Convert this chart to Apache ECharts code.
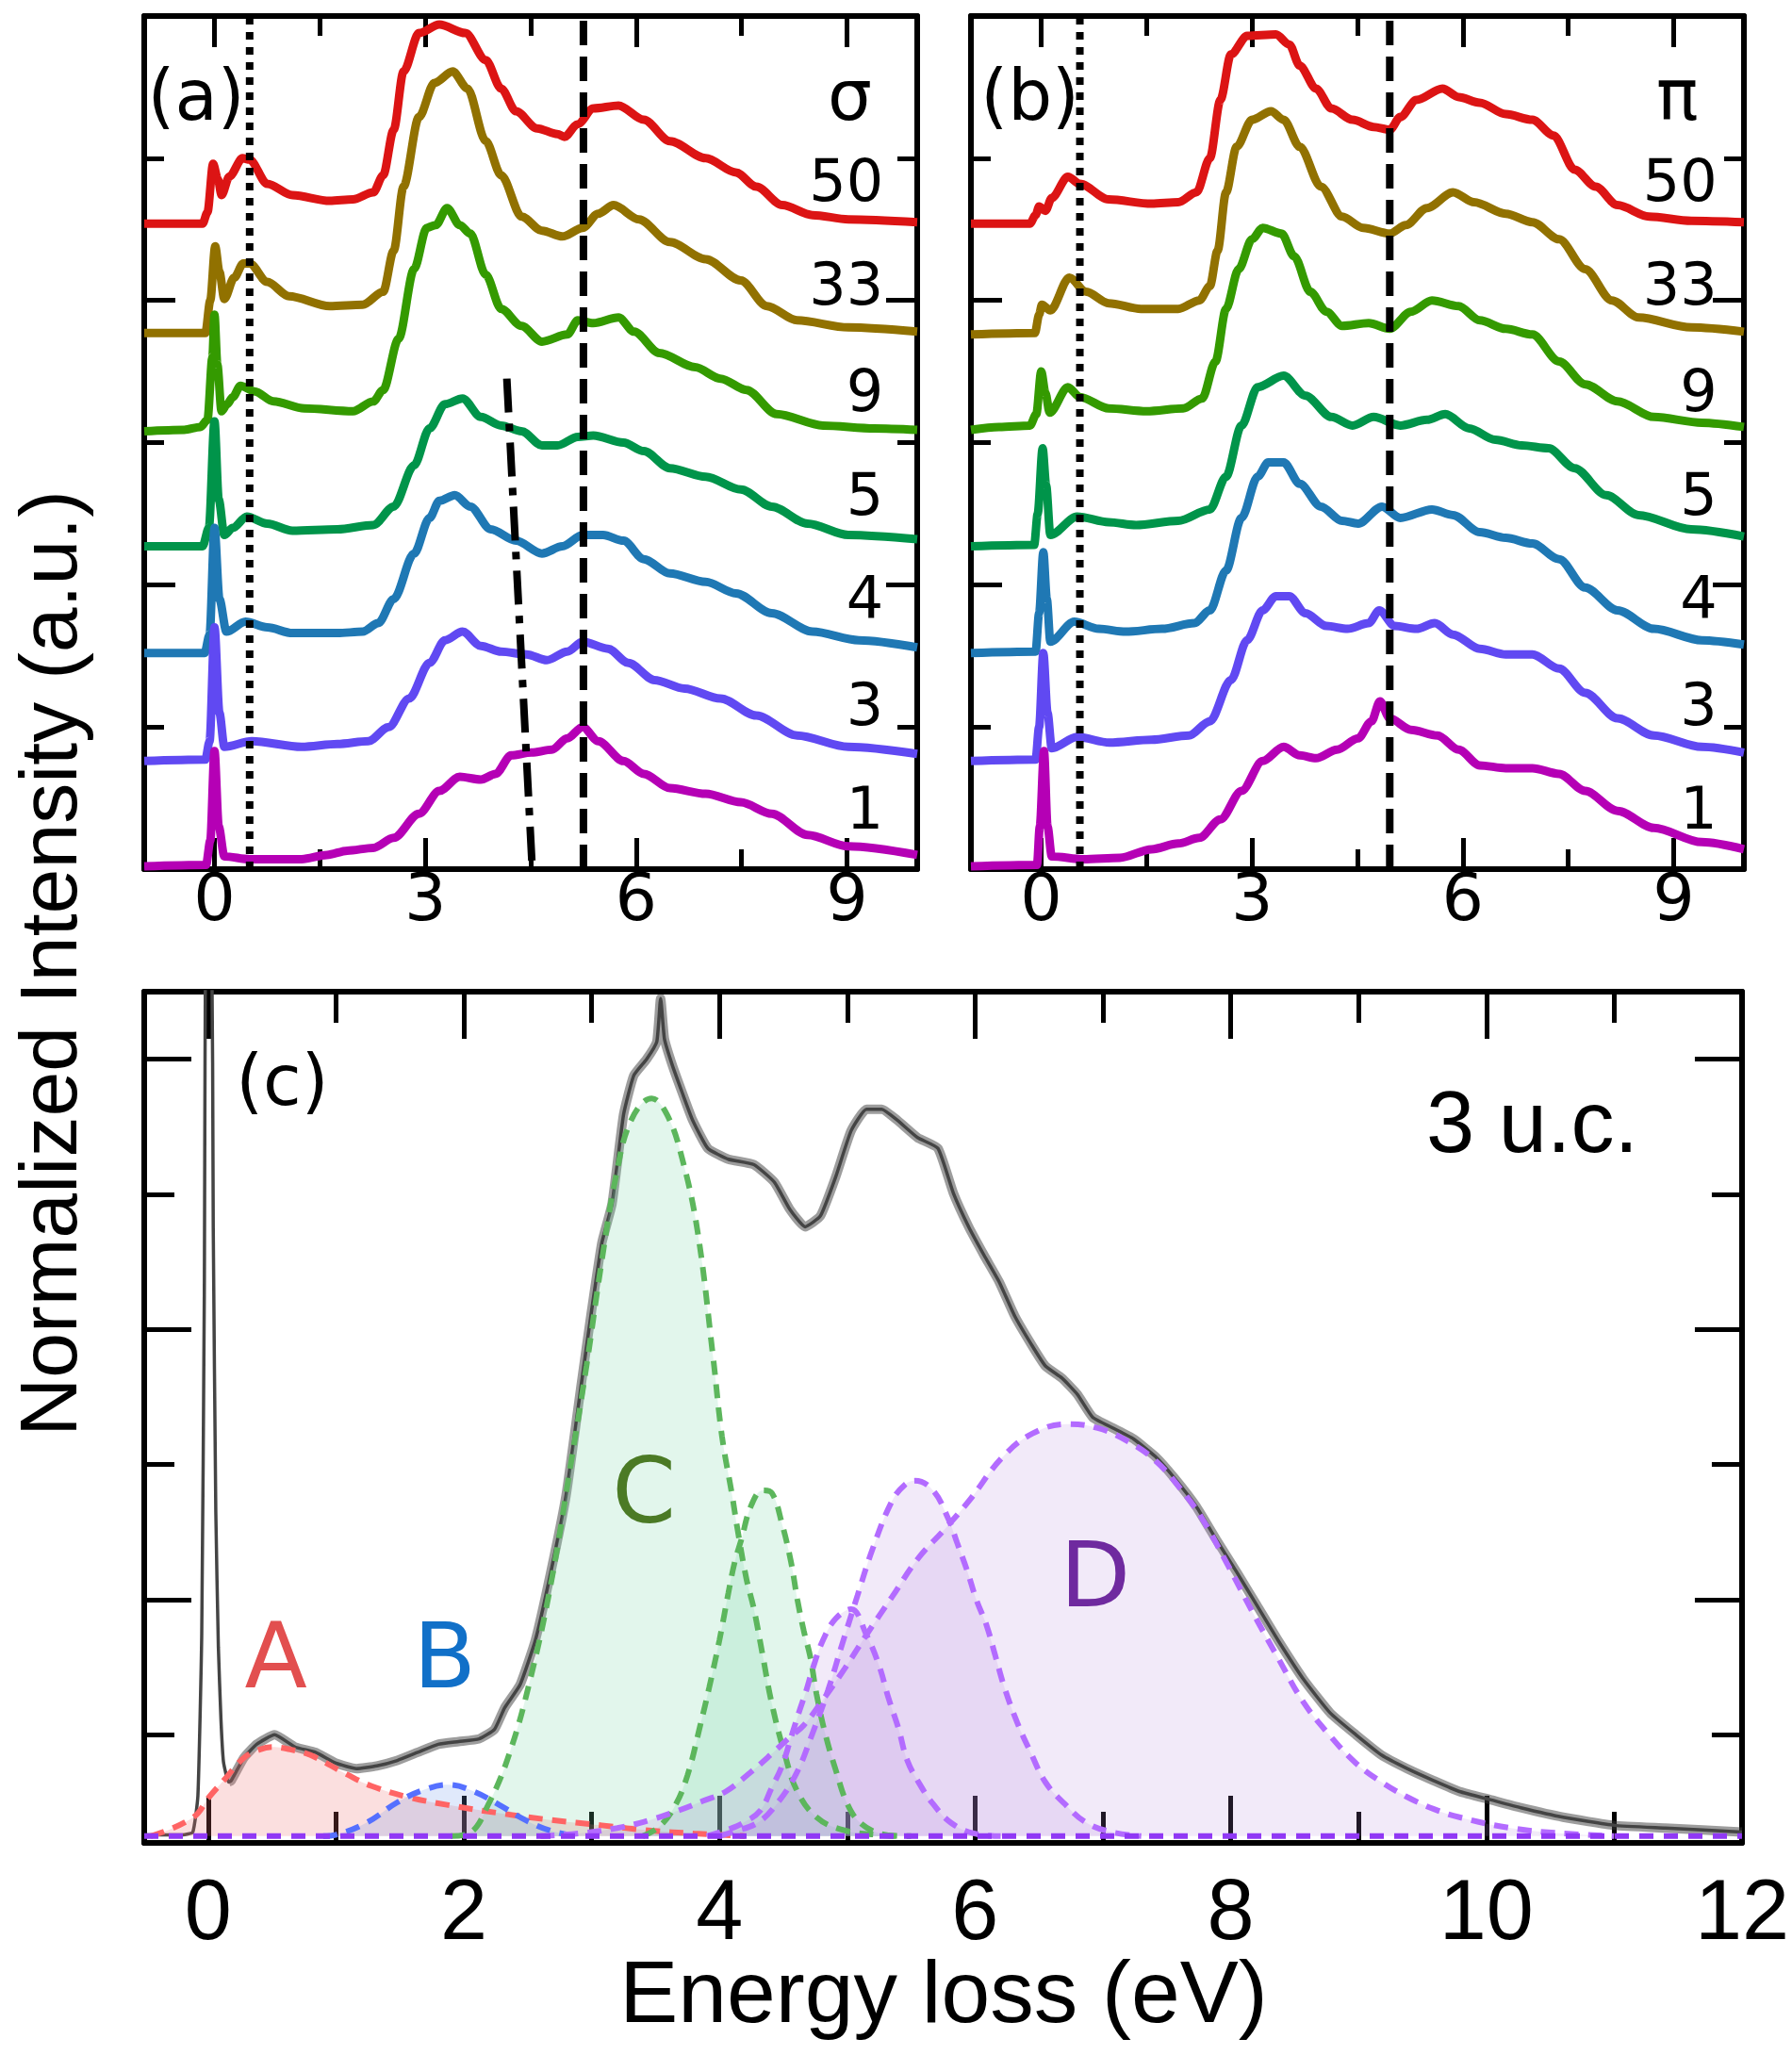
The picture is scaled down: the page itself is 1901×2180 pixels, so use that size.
<!DOCTYPE html>
<html lang="en">
<head>
<meta charset="UTF-8">
<title>EELS thickness series</title>
<script src="https://cdn.jsdelivr.net/npm/echarts@6.0.0/dist/echarts.min.js"></script>
<style>
  html, body { margin: 0; padding: 0; background: #fff; }
  #chart { width: 1901px; height: 2180px; }
</style>
</head>
<body>
<div id="chart"></div>
<script>
// ---- panel (a), sigma polarisation, offset spectra [energy, intensity] ----
var a50 = [[-1,4.54],[-0.17,4.54],[-0.10,4.62],[-0.02,4.96],[0.05,4.85],[0.10,4.74],[0.21,4.87],[0.40,5.0],[0.50,4.99],[0.75,4.82],[1.11,4.74],[1.64,4.70],[1.97,4.71],[2.26,4.76],[2.40,4.88],[2.55,5.20],[2.69,5.61],[2.91,5.88],[3.20,5.94],[3.57,5.88],[3.86,5.69],[4.08,5.49],[4.29,5.33],[4.59,5.21],[4.88,5.17],[4.98,5.15],[5.17,5.24],[5.39,5.35],[5.75,5.37],[6.11,5.27],[6.48,5.12],[6.99,5.0],[7.42,4.90],[7.71,4.80],[8.08,4.67],[8.51,4.60],[9.02,4.57],[10,4.55]];
var a33 = [[-1,3.77],[-0.13,3.77],[-0.06,4.0],[0.01,4.38],[0.07,4.2],[0.14,4.01],[0.28,4.16],[0.41,4.26],[0.50,4.26],[0.75,4.13],[1.06,4.03],[1.64,3.96],[2.11,3.97],[2.40,4.06],[2.55,4.35],[2.69,4.80],[2.91,5.29],[3.13,5.53],[3.39,5.61],[3.60,5.49],[3.86,5.12],[4.08,4.88],[4.37,4.59],[4.66,4.49],[4.95,4.45],[5.24,4.51],[5.46,4.61],[5.68,4.67],[6.04,4.57],[6.48,4.41],[6.99,4.29],[7.49,4.14],[7.86,3.96],[8.29,3.86],[9.02,3.81],[10,3.78]];
var a9 = [[-1,3.08],[-0.43,3.09],[-0.2,3.11],[-0.1,3.16],[-0.03,3.6],[0.0,3.9],[0.04,3.55],[0.10,3.22],[0.18,3.27],[0.26,3.32],[0.37,3.40],[0.57,3.36],[0.84,3.29],[1.28,3.24],[1.97,3.22],[2.26,3.29],[2.40,3.37],[2.62,3.73],[2.84,4.22],[3.02,4.51],[3.15,4.53],[3.31,4.65],[3.49,4.53],[3.64,4.47],[3.86,4.18],[4.08,3.94],[4.37,3.82],[4.66,3.71],[5.02,3.76],[5.17,3.86],[5.39,3.84],[5.75,3.88],[5.97,3.78],[6.33,3.63],[6.84,3.53],[7.20,3.45],[7.57,3.37],[8.00,3.20],[8.66,3.12],[9.39,3.10],[10,3.09]];
var a5 = [[-1,2.27],[-0.17,2.27],[-0.08,2.4],[0.0,3.15],[0.06,2.6],[0.14,2.35],[0.26,2.40],[0.46,2.48],[0.75,2.43],[1.11,2.38],[1.75,2.39],[2.26,2.42],[2.55,2.55],[2.84,2.84],[3.06,3.10],[3.28,3.27],[3.53,3.31],[3.79,3.18],[4.08,3.12],[4.37,3.08],[4.66,2.98],[4.88,2.98],[5.17,3.04],[5.39,3.05],[5.82,3.00],[6.11,2.94],[6.48,2.82],[6.99,2.76],[7.49,2.67],[7.93,2.55],[8.44,2.43],[9.02,2.35],[10,2.32]];
var a4 = [[-1,1.52],[-0.14,1.52],[-0.07,1.65],[0.0,2.4],[0.07,1.9],[0.17,1.67],[0.44,1.74],[0.75,1.70],[1.11,1.66],[1.75,1.66],[2.11,1.67],[2.33,1.73],[2.55,1.90],[2.84,2.22],[3.06,2.47],[3.20,2.59],[3.42,2.63],[3.64,2.55],[3.93,2.39],[4.29,2.31],[4.66,2.22],[4.95,2.27],[5.24,2.35],[5.53,2.35],[5.82,2.31],[6.11,2.18],[6.48,2.08],[6.99,2.02],[7.42,1.94],[7.93,1.80],[8.51,1.67],[9.17,1.61],[10,1.56]];
var a3 = [[-1,0.76],[-0.13,0.77],[-0.07,0.9],[0.0,1.70],[0.07,1.1],[0.14,0.86],[0.53,0.90],[1.24,0.86],[1.75,0.88],[2.19,0.90],[2.48,1.00],[2.77,1.20],[3.06,1.45],[3.28,1.61],[3.53,1.67],[3.79,1.57],[4.08,1.53],[4.44,1.51],[4.73,1.47],[5.02,1.53],[5.24,1.60],[5.60,1.55],[5.89,1.45],[6.26,1.33],[6.69,1.27],[7.20,1.20],[7.71,1.08],[8.29,0.94],[9.02,0.86],[10,0.81]];
var a1 = [[-1,0.02],[-0.12,0.03],[-0.06,0.2],[0.0,0.83],[0.06,0.3],[0.14,0.09],[0.5,0.07],[1.24,0.07],[1.60,0.10],[1.89,0.13],[2.26,0.15],[2.55,0.22],[2.91,0.39],[3.20,0.55],[3.49,0.65],[3.79,0.63],[4.00,0.67],[4.22,0.80],[4.51,0.82],[4.80,0.84],[5.02,0.92],[5.24,1.00],[5.46,0.90],[5.82,0.76],[6.11,0.67],[6.48,0.57],[6.99,0.53],[7.49,0.47],[7.93,0.39],[8.44,0.24],[9.02,0.16],[10,0.10]];

// ---- panel (b), pi polarisation ----
var b50 = [[-1,4.54],[-0.16,4.54],[-0.08,4.6],[-0.03,4.66],[0.06,4.63],[0.15,4.72],[0.38,4.87],[0.55,4.82],[0.96,4.71],[1.57,4.68],[1.95,4.69],[2.21,4.76],[2.40,5.00],[2.55,5.41],[2.70,5.73],[2.93,5.86],[3.34,5.87],[3.53,5.80],[3.68,5.65],[3.91,5.49],[4.13,5.35],[4.43,5.27],[4.73,5.22],[4.96,5.20],[5.11,5.29],[5.34,5.41],[5.71,5.49],[5.94,5.43],[6.24,5.39],[6.61,5.31],[6.99,5.27],[7.29,5.16],[7.59,4.92],[7.89,4.80],[8.20,4.67],[8.65,4.59],[9.25,4.56],[10,4.55]];
var b33 = [[-1,3.76],[-0.09,3.77],[-0.03,3.9],[0.01,3.97],[0.13,3.93],[0.40,4.16],[0.64,4.06],[0.96,3.98],[1.42,3.94],[1.95,3.94],[2.25,4.00],[2.40,4.10],[2.51,4.35],[2.63,4.76],[2.78,5.08],[3.00,5.27],[3.27,5.33],[3.45,5.27],[3.68,5.08],[3.98,4.80],[4.28,4.59],[4.58,4.51],[4.96,4.47],[5.19,4.53],[5.49,4.65],[5.86,4.76],[6.16,4.69],[6.61,4.61],[6.99,4.55],[7.37,4.43],[7.74,4.22],[8.12,4.00],[8.50,3.88],[9.25,3.81],[10,3.78]];
var b9 = [[-1,3.09],[-0.6,3.11],[-0.16,3.12],[-0.07,3.2],[0.0,3.50],[0.06,3.35],[0.12,3.21],[0.38,3.39],[0.55,3.32],[0.96,3.24],[1.50,3.22],[2.02,3.24],[2.29,3.31],[2.48,3.57],[2.63,3.94],[2.81,4.22],[3.00,4.43],[3.15,4.51],[3.42,4.47],[3.60,4.31],[3.83,4.06],[4.06,3.92],[4.28,3.82],[4.66,3.84],[4.96,3.80],[5.26,3.92],[5.56,4.00],[5.94,3.96],[6.24,3.86],[6.61,3.80],[6.99,3.76],[7.37,3.57],[7.74,3.41],[8.20,3.29],[8.72,3.18],[9.40,3.14],[10,3.11]];
var b5 = [[-1,2.27],[-0.1,2.28],[-0.05,2.5],[0.02,2.96],[0.07,2.7],[0.13,2.35],[0.51,2.48],[0.96,2.44],[1.35,2.42],[1.95,2.45],[2.40,2.53],[2.63,2.76],[2.85,3.12],[3.08,3.39],[3.45,3.47],[3.76,3.33],[4.13,3.18],[4.43,3.12],[4.73,3.18],[5.11,3.12],[5.49,3.16],[5.75,3.20],[6.09,3.10],[6.46,3.02],[6.84,2.98],[7.22,2.96],[7.59,2.82],[8.04,2.63],[8.50,2.49],[9.25,2.39],[10,2.34]];
var b4 = [[-1,1.52],[-0.08,1.53],[-0.03,1.8],[0.03,2.23],[0.08,1.9],[0.13,1.60],[0.47,1.74],[0.82,1.69],[1.20,1.67],[1.72,1.69],[2.18,1.73],[2.40,1.82],[2.63,2.10],[2.85,2.47],[3.08,2.76],[3.23,2.86],[3.45,2.86],[3.68,2.71],[3.98,2.55],[4.28,2.45],[4.51,2.43],[4.85,2.55],[5.11,2.47],[5.56,2.53],[5.86,2.49],[6.24,2.37],[6.61,2.33],[6.99,2.29],[7.37,2.18],[7.74,1.98],[8.20,1.82],[8.72,1.69],[9.40,1.61],[10,1.58]];
var b3 = [[-1,0.76],[-0.08,0.77],[-0.03,1.0],[0.03,1.52],[0.09,1.1],[0.15,0.85],[0.51,0.93],[0.97,0.89],[1.57,0.91],[2.10,0.94],[2.40,1.04],[2.70,1.33],[2.93,1.61],[3.15,1.82],[3.34,1.92],[3.53,1.92],[3.76,1.80],[4.06,1.71],[4.36,1.69],[4.66,1.73],[4.81,1.82],[5.03,1.71],[5.34,1.69],[5.60,1.73],[5.86,1.65],[6.24,1.55],[6.61,1.51],[6.99,1.51],[7.37,1.41],[7.74,1.24],[8.20,1.06],[8.72,0.94],[9.40,0.86],[10,0.82]];
var b1 = [[-1,0.02],[-0.06,0.03],[-0.02,0.3],[0.04,0.83],[0.09,0.3],[0.15,0.09],[0.6,0.07],[1.12,0.08],[1.57,0.14],[1.95,0.18],[2.25,0.22],[2.55,0.35],[2.85,0.55],[3.15,0.76],[3.45,0.86],[3.68,0.80],[3.91,0.78],[4.21,0.84],[4.51,0.92],[4.70,1.04],[4.82,1.18],[4.96,1.06],[5.26,0.98],[5.64,0.94],[5.94,0.84],[6.24,0.73],[6.61,0.71],[6.99,0.71],[7.37,0.67],[7.74,0.55],[8.20,0.41],[8.72,0.29],[9.40,0.19],[10,0.14]];

var thickness = ['50', '33', '9', '5', '4', '3', '1'];
var labelY = [4.81, 4.08, 3.33, 2.60, 1.87, 1.12, 0.39];
var traceColors = ['#dc1414', '#917100', '#349a00', '#00944a', '#1f78b4', '#6049f2', '#b500b5'];

// guide lines (eV)
var aDotted = 0.5, aDashed = 5.25;
var aDashDot = [[4.16, 3.45], [4.52, 0.02]];
var bDotted = 0.55, bDashed = 4.96;

// ---- panel (c), 3 u.c. spectrum and fit components ----
var spec3uc = [[-0.5,0.01],[-0.2,0.01],[-0.12,0.03],[-0.08,0.3],[-0.05,1.5],[-0.03,4.0],[-0.015,7.0],[0.025,7.0],[0.04,4.5],[0.06,2.4],[0.08,1.4],[0.10,0.87],[0.12,0.55],[0.16,0.40],[0.18,0.41],[0.28,0.58],[0.38,0.68],[0.52,0.75],[0.68,0.66],[0.84,0.62],[1.0,0.54],[1.16,0.50],[1.32,0.52],[1.48,0.56],[1.64,0.62],[1.80,0.68],[1.96,0.70],[2.12,0.72],[2.24,0.79],[2.32,0.95],[2.44,1.12],[2.56,1.45],[2.68,1.95],[2.80,2.52],[2.92,3.35],[3.00,3.89],[3.08,4.39],[3.16,4.68],[3.25,5.34],[3.33,5.63],[3.43,5.75],[3.51,5.88],[3.54,6.2],[3.57,5.9],[3.63,5.71],[3.71,5.50],[3.79,5.30],[3.91,5.09],[4.07,5.01],[4.27,4.97],[4.43,4.84],[4.55,4.64],[4.67,4.51],[4.79,4.59],[4.91,4.88],[5.03,5.22],[5.15,5.38],[5.27,5.38],[5.39,5.30],[5.55,5.17],[5.71,5.09],[5.83,4.76],[5.95,4.51],[6.07,4.30],[6.19,4.10],[6.31,3.85],[6.44,3.64],[6.55,3.48],[6.68,3.39],[6.80,3.27],[6.92,3.10],[7.08,3.02],[7.24,2.94],[7.41,2.81],[7.56,2.65],[7.73,2.44],[7.89,2.19],[8.05,1.95],[8.21,1.70],[8.37,1.45],[8.57,1.16],[8.78,0.91],[8.98,0.75],[9.18,0.60],[9.38,0.50],[9.59,0.41],[9.79,0.33],[10.03,0.27],[10.27,0.21],[10.6,0.14],[11.0,0.08],[11.4,0.06],[12.0,0.03]];
var fitA = [[-0.45,0],[-0.3,0.05],[-0.15,0.12],[-0.08,0.17],[0.0,0.28],[0.12,0.41],[0.28,0.58],[0.40,0.64],[0.50,0.66],[0.65,0.64],[0.80,0.60],[1.08,0.46],[1.28,0.37],[1.56,0.29],[1.88,0.23],[2.28,0.17],[2.68,0.12],[3.08,0.08],[3.47,0.04],[3.8,0.02],[4.2,0]];
var fitB = [[0.9,0],[1.0,0.01],[1.24,0.10],[1.48,0.25],[1.68,0.34],[1.88,0.38],[2.08,0.33],[2.28,0.23],[2.48,0.12],[2.68,0.04],[2.88,0]];
var fitC1 = [[1.9,0],[2.04,0.02],[2.20,0.25],[2.36,0.62],[2.52,1.16],[2.68,1.86],[2.84,2.77],[2.96,3.48],[3.08,4.26],[3.19,4.88],[3.31,5.30],[3.47,5.46],[3.59,5.34],[3.71,5.01],[3.83,4.47],[3.95,3.55],[4.02,2.96],[4.10,2.52],[4.14,2.28],[4.21,1.91],[4.27,1.68],[4.34,1.33],[4.41,0.98],[4.51,0.61],[4.61,0.33],[4.76,0.14],[4.95,0.05],[5.23,0.01],[5.5,0]];
var fitC2 = [[3.4,0],[3.53,0.07],[3.65,0.22],[3.75,0.45],[3.85,0.82],[3.92,1.10],[4.0,1.45],[4.07,1.80],[4.12,2.03],[4.17,2.19],[4.25,2.45],[4.34,2.56],[4.41,2.54],[4.49,2.31],[4.56,2.03],[4.61,1.75],[4.66,1.52],[4.71,1.33],[4.76,1.05],[4.83,0.75],[4.91,0.49],[5.0,0.24],[5.10,0.10],[5.25,0.02],[5.4,0]];
var fitD1 = [[3.9,0],[4.07,0.05],[4.19,0.10],[4.32,0.19],[4.41,0.36],[4.49,0.52],[4.56,0.73],[4.62,0.91],[4.68,1.08],[4.73,1.24],[4.81,1.45],[4.91,1.61],[5.03,1.68],[5.15,1.49],[5.25,1.26],[5.32,1.03],[5.40,0.80],[5.47,0.56],[5.57,0.38],[5.67,0.24],[5.81,0.10],[5.99,0.02],[6.2,0]];
var fitD2 = [[4.0,0],[4.1,0.03],[4.3,0.10],[4.45,0.24],[4.6,0.46],[4.72,0.74],[4.85,1.08],[4.96,1.42],[5.08,1.78],[5.2,2.13],[5.35,2.48],[5.45,2.60],[5.53,2.63],[5.67,2.56],[5.79,2.35],[5.86,2.17],[5.94,1.96],[6.01,1.75],[6.09,1.56],[6.16,1.33],[6.23,1.10],[6.33,0.84],[6.43,0.63],[6.55,0.40],[6.70,0.24],[6.87,0.10],[7.07,0.03],[7.3,0]];
var fitD3 = [[2.6,0],[2.9,0.02],[3.2,0.06],[3.46,0.12],[3.68,0.19],[3.87,0.26],[4.05,0.33],[4.24,0.47],[4.41,0.61],[4.56,0.74],[4.66,0.82],[4.81,1.01],[4.98,1.24],[5.15,1.49],[5.35,1.77],[5.55,2.05],[5.77,2.28],[5.96,2.49],[6.21,2.80],[6.45,2.98],[6.72,3.05],[6.96,3.02],[7.2,2.92],[7.41,2.78],[7.6,2.58],[7.77,2.36],[7.97,2.02],[8.17,1.66],[8.37,1.32],[8.57,0.99],[8.78,0.74],[8.98,0.54],[9.18,0.40],[9.38,0.29],[9.59,0.20],[9.79,0.14],[10.19,0.06],[10.6,0.02],[11.0,0]];
var fitBaseline = [[-0.5,0],[12,0]];

// tick values
var xTopMajor = [0, 3, 6, 9], xTopMinor = [1.5, 4.5, 7.5];
var yTopMajor = [2, 4], yTopMinor = [1, 3, 5];
var xBotMajor = [0, 2, 4, 6, 8, 10, 12], xBotMinor = [1, 3, 5, 7, 9, 11];
var yBotMajor = [1.75, 3.75, 5.75], yBotMinor = [0.75, 2.75, 4.75];

var SANS = '"Liberation Sans", Arial, sans-serif';
var DEJA = '"DejaVu Sans", Verdana, sans-serif';

// main axis (line + long ticks) and minor axis (short ticks), mirrored on the opposite side
function axisSet(dim, grid, min, max, majors, minors, longLen, shortLen, labelOpt) {
    var sides = dim === 'x' ? ['bottom', 'top'] : ['left', 'right'];
    var out = [];
    sides.forEach(function (pos, si) {
        [[majors, longLen], [minors, shortLen]].forEach(function (t, ti) {
            out.push({
                type: 'value', gridIndex: grid, position: pos, min: min, max: max,
                axisLine: {show: ti === 0, onZero: false, lineStyle: {color: '#000', width: 6}},
                axisTick: {show: true, inside: true, length: t[1], customValues: t[0],
                    lineStyle: {color: '#000', width: 5}},
                axisLabel: (si === 0 && ti === 0 && labelOpt) ?
                    Object.assign({show: true, customValues: majors, color: '#000'}, labelOpt) : {show: false},
                splitLine: {show: false}
            });
        });
    });
    return out;
}

function vline(grid, x, y0, y1, dash, width) {
    return {type: 'line', xAxisIndex: grid * 4, yAxisIndex: grid * 4, data: [[x, y0], [x, y1]],
        symbol: 'none', z: 6, lineStyle: {color: '#000', width: width, type: dash, cap: 'butt'}};
}

function traces(grid, list) {
    return list.map(function (d, i) {
        return {type: 'line', xAxisIndex: grid * 4, yAxisIndex: grid * 4, data: d, symbol: 'none',
            smooth: 0.3, smoothMonotone: 'x', z: 3, lineStyle: {color: traceColors[i], width: 9}};
    });
}

function fit(d, line, fill) {
    return {type: 'line', xAxisIndex: 8, yAxisIndex: 8, data: d, symbol: 'none', smooth: 0.4, z: 4,
        lineStyle: {color: line, width: 6, type: [15, 10]}, areaStyle: {color: fill, origin: 0}};
}

// annotations: [grid, x, y, text, font, size, color, align]
var notes = [
    [0, -0.26, 5.40, '(a)', DEJA, 74, '#000', 'center'],
    [0, 9.04, 5.40, 'σ', DEJA, 74, '#000', 'center'],
    [1, -0.16, 5.40, '(b)', DEJA, 74, '#000', 'center'],
    [1, 9.05, 5.40, 'π', DEJA, 74, '#000', 'center'],
    [2, 0.58, 5.55, '(c)', DEJA, 74, '#000', 'center'],
    [2, 10.36, 5.24, '3 u.c.', SANS, 92, '#000', 'center'],
    [2, 0.53, 1.28, 'A', DEJA, 97, '#e24f4f', 'center'],
    [2, 1.85, 1.28, 'B', DEJA, 97, '#1170c8', 'center'],
    [2, 3.41, 2.50, 'C', DEJA, 97, '#4b7a25', 'center'],
    [2, 6.94, 1.88, 'D', DEJA, 97, '#6f2a9f', 'center']
];
thickness.forEach(function (t, i) {
    notes.push([0, 9.52, labelY[i], t, DEJA, 62, '#000', 'right']);
    notes.push([1, 9.62, labelY[i], t, DEJA, 62, '#000', 'right']);
});

var topLabel = {fontFamily: DEJA, fontSize: 70, margin: 1};
var botLabel = {fontFamily: SANS, fontSize: 90, margin: 32};

var xAxes = [].concat(
    axisSet('x', 0, -1, 10, xTopMajor, xTopMinor, 33, 21, topLabel),
    axisSet('x', 1, -1, 10, xTopMajor, xTopMinor, 33, 21, topLabel),
    axisSet('x', 2, -0.5, 12, xBotMajor, xBotMinor, 50, 33, botLabel)
);
var yAxes = [].concat(
    axisSet('y', 0, 0, 6, yTopMajor, yTopMinor, 33, 21, null),
    axisSet('y', 1, 0, 6, yTopMajor, yTopMinor, 33, 21, null),
    axisSet('y', 2, -0.05, 6.25, yBotMajor, yBotMinor, 50, 32, null)
);

var noisyPart = spec3uc.filter(function (p) { return p[0] > 0.15; });

var series = [].concat(
    traces(0, [a50, a33, a9, a5, a4, a3, a1]),
    traces(1, [b50, b33, b9, b5, b4, b3, b1]),
    [
        vline(0, aDotted, 0, 6, [8, 8], 8),
        vline(0, aDashed, 0, 6, [26, 12], 8),
        {type: 'line', xAxisIndex: 0, yAxisIndex: 0, data: aDashDot, symbol: 'none', z: 6,
            lineStyle: {color: '#000', width: 8, type: [36, 12, 8, 12], cap: 'butt'}},
        vline(1, bDotted, 0, 6, [8, 8], 8),
        vline(1, bDashed, 0, 6, [26, 12], 8),
        // noise band of the measured spectrum, then the spectrum itself
        {type: 'line', xAxisIndex: 8, yAxisIndex: 8, data: noisyPart, symbol: 'none', smooth: 0.15, z: 3,
            lineStyle: {color: 'rgba(60,60,60,0.5)', width: 10}},
        {type: 'line', xAxisIndex: 8, yAxisIndex: 8, data: spec3uc, symbol: 'none', smooth: 0.15, z: 3,
            lineStyle: {color: '#444', width: 3.5}},
        fit(fitA, '#ff6464', 'rgba(238,112,112,0.32)'),
        fit(fitB, '#5570ff', 'rgba(110,150,235,0.30)'),
        fit(fitC1, '#5cb65c', 'rgba(120,212,165,0.30)'),
        fit(fitC2, '#5cb65c', 'rgba(120,212,165,0.30)'),
        fit(fitD1, '#b36bff', 'rgba(183,135,219,0.25)'),
        fit(fitD2, '#b36bff', 'rgba(183,135,219,0.25)'),
        fit(fitD3, '#b36bff', 'rgba(183,135,219,0.25)'),
        {type: 'line', xAxisIndex: 8, yAxisIndex: 8, data: fitBaseline, symbol: 'none', z: 5,
            lineStyle: {color: '#9038f5', width: 6, type: [15, 11], cap: 'butt'}}
    ]
);

var chart = echarts.init(document.getElementById('chart'), null, {renderer: 'canvas'});
chart.setOption({
    animation: false,
    backgroundColor: '#fff',
    grid: [
        {left: 153, top: 17, width: 820, height: 905},
        {left: 1030, top: 17, width: 820, height: 905},
        {left: 153, top: 1052, width: 1697, height: 903}
    ],
    xAxis: xAxes,
    yAxis: yAxes,
    series: series
});

// place annotations through the axes of their panel
var graphics = notes.map(function (n) {
    var px = chart.convertToPixel({xAxisIndex: n[0] * 4, yAxisIndex: n[0] * 4}, [n[1], n[2]]);
    return {type: 'text', x: px[0], y: px[1], z: 20,
        style: {text: n[3], fontFamily: n[4], fontSize: n[5], fill: n[6], align: n[7], verticalAlign: 'middle'}};
});
graphics.push(
    {type: 'text', x: 57, y: 1022, rotation: Math.PI / 2,
        style: {text: 'Normalized Intensity (a.u.)', fontFamily: SANS, fontSize: 86, fill: '#000',
            align: 'center', verticalAlign: 'middle'}},
    {type: 'text', x: 1001, y: 2119,
        style: {text: 'Energy loss (eV)', fontFamily: SANS, fontSize: 93, fill: '#000',
            align: 'center', verticalAlign: 'middle'}}
);
chart.setOption({graphic: graphics});
</script>
</body>
</html>
